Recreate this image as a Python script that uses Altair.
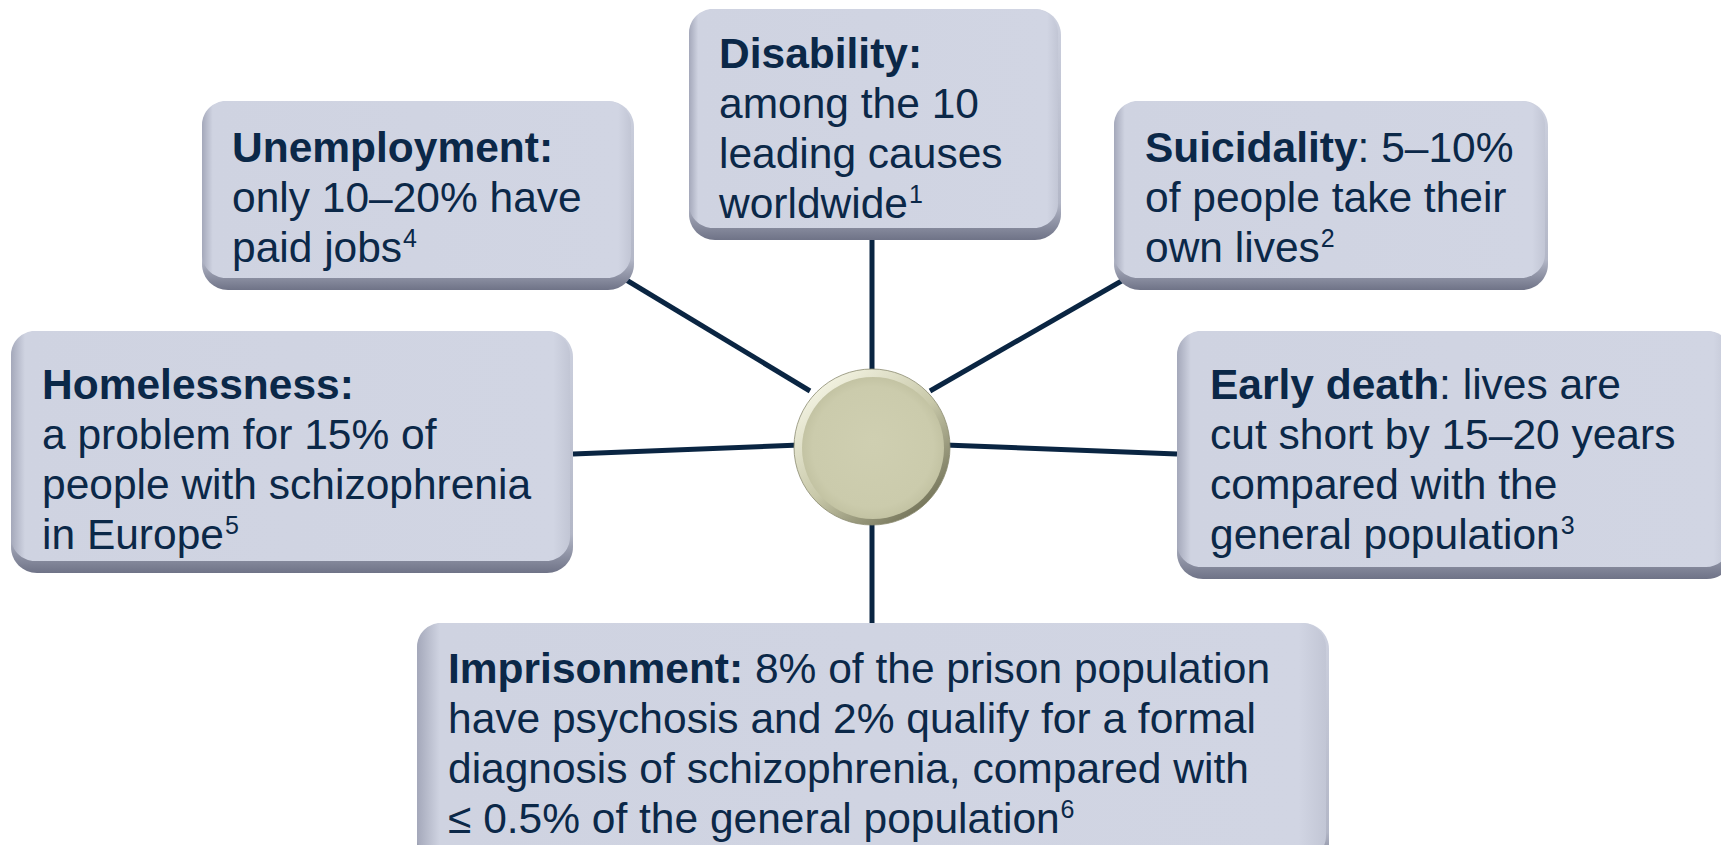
import altair as alt
import pandas as pd

# ---------------- canvas (page pixel coordinates) ----------------
W, H, M = 1713, 837, 8

# ---------------- data ----------------
box_names = ["Disability", "Unemployment", "Suicidality", "Homelessness", "Early death", "Imprisonment"]
box_left = [689, 202, 1114, 11, 1177, 417]
box_right = [1061, 634, 1548, 573, 1733, 1329]
box_top = [9, 101, 101, 331, 331, 623]
box_bottom = [240, 290, 290, 573, 579, 872]
text_left = [719, 232, 1145, 42, 1210, 448]
first_baseline = [68, 162, 162, 399, 399, 683]

heads = ["Disability:", "Unemployment:", "Suicidality", "Homelessness:", "Early death", "Imprisonment:"]
head_tails = ["", "", ": 5–10%", "", ": lives are", " 8% of the prison population"]
bodies = [
    ["among the 10", "leading causes", "worldwide"],
    ["only 10–20% have", "paid jobs"],
    ["of people take their", "own lives"],
    ["a problem for 15% of", "people with schizophrenia", "in Europe"],
    ["cut short by 15–20 years", "compared with the", "general population"],
    ["have psychosis and 2% qualify for a formal",
     "diagnosis of schizophrenia, compared with",
     "≤ 0.5% of the general population"],
]
footnotes = ["1", "4", "2", "5", "3", "6"]

conn_x1 = [872, 872, 623, 1125, 573, 945]
conn_y1 = [240, 515, 278, 279, 454, 445]
conn_x2 = [872, 872, 810, 930, 800, 1177]
conn_y2 = [380, 623, 391, 391, 445, 454]

hub_x = [872]
hub_y = [447]

# ---------------- style ----------------
FONT = "Liberation Sans, Arial, Helvetica, sans-serif"
FS = 42.5
SUP_FS = 25
SUP_RAISE = 15
STEP = 50
TXT = "#0b2848"
LINE = "#0a2542"

# Arial / Liberation Sans advance widths (1/1000 em)
REG_W = {" ": 278, "a": 556, "b": 556, "c": 500, "d": 556, "e": 556, "f": 278, "g": 556,
         "h": 556, "i": 222, "j": 222, "k": 500, "l": 222, "m": 833, "n": 556, "o": 556,
         "p": 556, "q": 556, "r": 333, "s": 500, "t": 278, "u": 556, "v": 500, "w": 722,
         "x": 500, "y": 500, "z": 500, "E": 667, "≤": 549, ".": 278, "%": 889, ",": 278,
         ":": 278, "–": 556}
for dgt in "0123456789":
    REG_W[dgt] = 556
BOLD_W = {"S": 667, "u": 611, "i": 278, "c": 556, "d": 611, "a": 556, "l": 278, "t": 333,
          "y": 556, "E": 667, "r": 389, " ": 278, "e": 556, "h": 611, "I": 278, "m": 889,
          "p": 611, "s": 556, "o": 611, "n": 611, ":": 333, "D": 722, "b": 611, "U": 722,
          "H": 722}


def width(s, table):
    return sum(table.get(ch, 556) for ch in s) * FS / 1000.0


xs = alt.Scale(domain=[M, M + W], range=[0, W], zero=False, nice=False)
ys = alt.Scale(domain=[M, M + H], range=[0, H], zero=False, nice=False)

# ---------------- tables ----------------
boxes = pd.DataFrame({"name": box_names, "l": box_left, "r": box_right,
                      "t": box_top, "b": box_bottom})
boxes["il"] = boxes["l"]
boxes["ir"] = boxes["r"] - 3
boxes["it"] = boxes["t"]
boxes["ib"] = boxes["b"] - 12

rows, sups = [], []
for i in range(len(box_names)):
    x0, y0 = text_left[i], first_baseline[i]
    rows.append({"x": x0, "y": y0, "t": heads[i], "w": "bold"})
    if head_tails[i]:
        tail = head_tails[i]
        gap = width(" ", REG_W) if tail.startswith(" ") else 0.0
        rows.append({"x": x0 + width(heads[i], BOLD_W) + gap, "y": y0,
                     "t": tail.strip(), "w": "normal"})
    for k, line in enumerate(bodies[i]):
        yk = y0 + STEP * (k + 1)
        rows.append({"x": x0, "y": yk, "t": line, "w": "normal"})
        if k == len(bodies[i]) - 1:
            sups.append({"x": x0 + width(line, REG_W) + 1, "y": yk - SUP_RAISE,
                         "t": footnotes[i]})
texts = pd.DataFrame(rows)
sup_df = pd.DataFrame(sups)

conns = pd.DataFrame({"x": conn_x1, "y": conn_y1, "x2": conn_x2, "y2": conn_y2})
hub = pd.DataFrame({"x": hub_x, "y": hub_y})
hub_in = pd.DataFrame({"x": [hub_x[0] + 1], "y": [hub_y[0] + 1]})

# ---------------- layers ----------------
connectors = alt.Chart(conns).mark_rule(color=LINE, strokeWidth=5).encode(
    x=alt.X("x:Q", scale=xs, axis=None), y=alt.Y("y:Q", scale=ys, axis=None),
    x2="x2:Q", y2="y2:Q")

outer_grad = alt.Gradient(gradient="linear", x1=0, y1=0, x2=0, y2=1, stops=[
    alt.GradientStop(offset=0, color="#cdd1df"),
    alt.GradientStop(offset=0.84, color="#b3b7c7"),
    alt.GradientStop(offset=1, color="#6f7387")])
box_outer = alt.Chart(boxes).mark_rect(cornerRadius=26, fill=outer_grad).encode(
    x=alt.X("l:Q", scale=xs, axis=None), x2="r:Q",
    y=alt.Y("t:Q", scale=ys, axis=None), y2="b:Q")

inner_grad = alt.Gradient(gradient="linear", x1=0, y1=0, x2=1, y2=0, stops=[
    alt.GradientStop(offset=0, color="#a4a8ba"),
    alt.GradientStop(offset=0.025, color="#cfd3e1"),
    alt.GradientStop(offset=0.97, color="#d1d5e3"),
    alt.GradientStop(offset=1, color="#c2c6d5")])
box_inner = alt.Chart(boxes).mark_rect(cornerRadius=24, fill=inner_grad).encode(
    x=alt.X("il:Q", scale=xs, axis=None), x2="ir:Q",
    y=alt.Y("it:Q", scale=ys, axis=None), y2="ib:Q")

hub_grad = alt.Gradient(gradient="linear", x1=0.15, y1=0.1, x2=0.85, y2=0.95, stops=[
    alt.GradientStop(offset=0, color="#f3f3e2"),
    alt.GradientStop(offset=0.5, color="#c8c8a9"),
    alt.GradientStop(offset=1, color="#6c6c52")])
hub_outer = alt.Chart(hub).mark_circle(size=156 * 156, fill=hub_grad, opacity=1,
                                       stroke="#8a8a70", strokeWidth=0.8).encode(
    x=alt.X("x:Q", scale=xs, axis=None), y=alt.Y("y:Q", scale=ys, axis=None))

hub_in_grad = alt.Gradient(gradient="radial", x1=0.5, y1=0.45, r1=0.0,
                           x2=0.5, y2=0.5, r2=0.5, stops=[
    alt.GradientStop(offset=0, color="#cfcfb1"),
    alt.GradientStop(offset=0.85, color="#cbcbac"),
    alt.GradientStop(offset=1, color="#c3c3a3")])
hub_inner = alt.Chart(hub_in).mark_circle(size=142 * 142, fill=hub_in_grad, opacity=1).encode(
    x=alt.X("x:Q", scale=xs, axis=None), y=alt.Y("y:Q", scale=ys, axis=None))


def text_layer(df, weight, size):
    return alt.Chart(df).mark_text(
        font=FONT, fontSize=size, color=TXT, align="left", baseline="alphabetic",
        fontWeight=weight).encode(
        x=alt.X("x:Q", scale=xs, axis=None), y=alt.Y("y:Q", scale=ys, axis=None),
        text="t:N")


chart = alt.layer(connectors, box_outer, box_inner, hub_outer, hub_inner,
                  text_layer(texts[texts["w"] == "bold"], "bold", FS),
                  text_layer(texts[texts["w"] == "normal"], "normal", FS),
                  text_layer(sup_df, "normal", SUP_FS)).properties(
    width=W, height=H, padding=0, autosize=alt.AutoSizeParams(type="none"),
    background="white"
).configure_view(stroke=None)

chart.save("out.html", embed_options={"renderer": "svg", "actions": False})
